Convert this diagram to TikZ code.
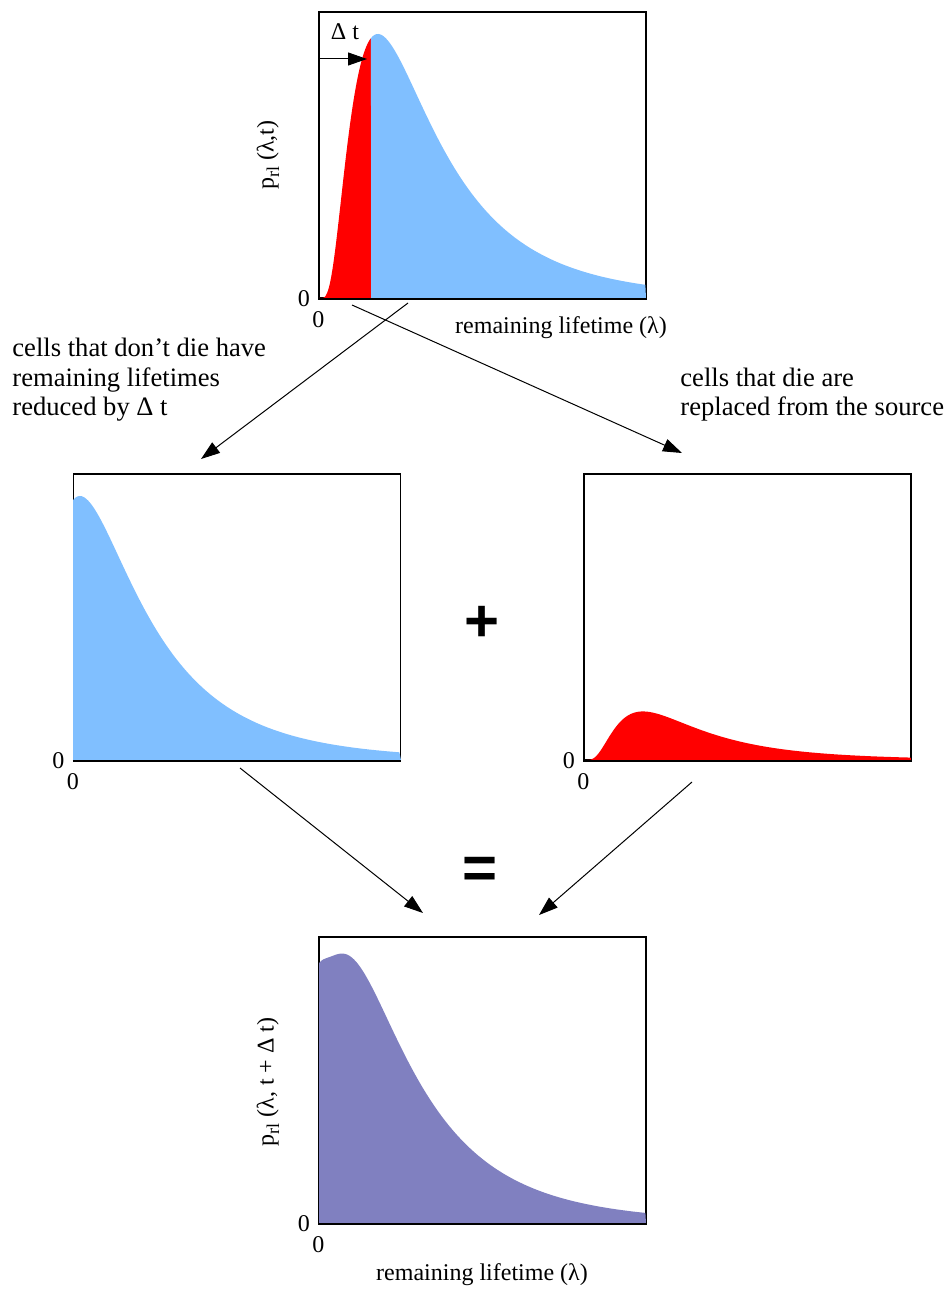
\documentclass[tikz,border=0pt]{standalone}
\usepackage{fontspec}
\setmainfont{Liberation Serif}
\setsansfont{Liberation Sans}
\usepackage{xcolor}
\usepackage{tikz}
\usetikzlibrary{positioning,arrows.meta}

\definecolor{lifeblue}{RGB}{128,191,255}
\definecolor{diered}{RGB}{255,0,0}
\definecolor{sumpurple}{RGB}{128,128,192}

\newcommand{\subrl}{\raisebox{-0.5ex}{\fontsize{9}{9}\selectfont rl}}

\begin{document}
\begin{tikzpicture}[
    x=0.5pt, y=-0.5pt,
    declare function={dens(\u)=0.923*exp(-(ln(\u/0.18))*(ln(\u/0.18))/0.98);},
    pbox/.style={draw, line width=0.75pt, minimum width=163.5pt, minimum height=143pt,
                 inner sep=0pt},
    ax/.style={font=\fontsize{12}{14}\selectfont, inner sep=1pt},
    note/.style={font=\fontsize{13.3}{14.75}\selectfont, align=left, inner sep=0pt},
    arr/.style={-{Triangle[length=9.5pt, width=6.5pt]}, line width=0.5pt, black},
    op/.style={font=\fontsize{30}{30}\selectfont\sffamily\bfseries, inner sep=0pt},
    base/.style={line width=0.75pt},
]
\useasboundingbox (0,0) rectangle (948,1289);

% ===== Plot frames =====
\node[pbox] (top) at (482.5,155)  {};
\node[pbox] (old) at (237,617)    {};
\node[pbox] (new) at (747.5,617)  {};
\node[pbox] (sum) at (482.5,1080) {};

% ===== Top: p_rl(lambda,t), dying part in red =====
\fill[diered] (319,298) -- plot[domain=0.01:0.159, samples=60]
    ({319+327*\x},{298-286*dens(\x)}) -- (371,298) -- cycle;
\fill[lifeblue] (371,298) -- plot[domain=0.159:1, samples=150]
    ({319+327*\x},{298-286*dens(\x)}) -- (646,298) -- cycle;
\draw[base] (top.south west) -- (top.south east);

% ===== Middle left: survivors shifted by Delta t =====
\fill[lifeblue] (73,760) -- plot[domain=0:1, samples=150]
    ({73+327*\x},{760-286*dens(\x+0.159)}) -- (401,760) -- cycle;
\draw[base] (old.south west) -- (old.south east);

% ===== Middle right: replacements from the source =====
\fill[diered] (584,760) -- plot[domain=0.01:1, samples=150]
    ({584+327*\x},{760-286*0.184*dens(\x)}) -- (911,760) -- cycle;
\draw[base] (new.south west) -- (new.south east);

% ===== Bottom: p_rl(lambda,t+Delta t) =====
\fill[sumpurple] (319,1223) -- plot[domain=0:1, samples=150]
    ({319+327*\x},{1223-286*(dens(\x+0.159)+0.184*dens(\x+0.002))}) -- (646,1223) -- cycle;
\draw[base] (sum.south west) -- (sum.south east);

% ===== Delta t shift arrow =====
\node[ax] (dt) at (345,32) {Δ t};
\coordinate (dts) at (319,59);
\coordinate (dte) at (367,59);
\draw[arr] (dts) -- (dte);

% ===== Axis labels =====
\node[ax, rotate=90] (ytop) at (268,155) {p\subrl{} (λ,t)};
\node[ax, left=3pt of top.south west]  (ztl) {0};
\node[ax, below=5pt of top.south west] (ztb) {0};
\node[ax] (xtop) at (561,328) {remaining lifetime (λ)};

\node[ax, left=3pt of old.south west]  (zol) {0};
\node[ax, below=5pt of old.south west] (zob) {0};
\node[ax, left=3pt of new.south west]  (znl) {0};
\node[ax, below=5pt of new.south west] (znb) {0};

\node[ax, rotate=90] (ysum) at (268,1082) {p\subrl{} (λ, t + Δ t)};
\node[ax, left=3pt of sum.south west]  (zsl) {0};
\node[ax, below=5pt of sum.south west] (zsb) {0};
\node[ax] (xsum) at (482,1275) {remaining lifetime (λ)};

% ===== Notes =====
\node[note, anchor=west] (keep) at (12,380)
    {cells that don't die have\\remaining lifetimes\\reduced by Δ t};
\node[note, anchor=west] (swap) at (680,394.5)
    {cells that die are\\replaced from the source};

% ===== Operators =====
\node[op] (plus) at (482,624) {+};
\node[op] (eq)   at (480,873) {=};

% ===== Flow arrows =====
\coordinate (s1) at (408,303);  \coordinate (e1) at (201,459);
\coordinate (s2) at (352,305);  \coordinate (e2) at (682,453);
\coordinate (s3) at (240,768);  \coordinate (e3) at (423,913);
\coordinate (s4) at (692,782);  \coordinate (e4) at (539,915);
\draw[arr] (s1) -- (e1);
\draw[arr] (s2) -- (e2);
\draw[arr] (s3) -- (e3);
\draw[arr] (s4) -- (e4);

\end{tikzpicture}
\end{document}
